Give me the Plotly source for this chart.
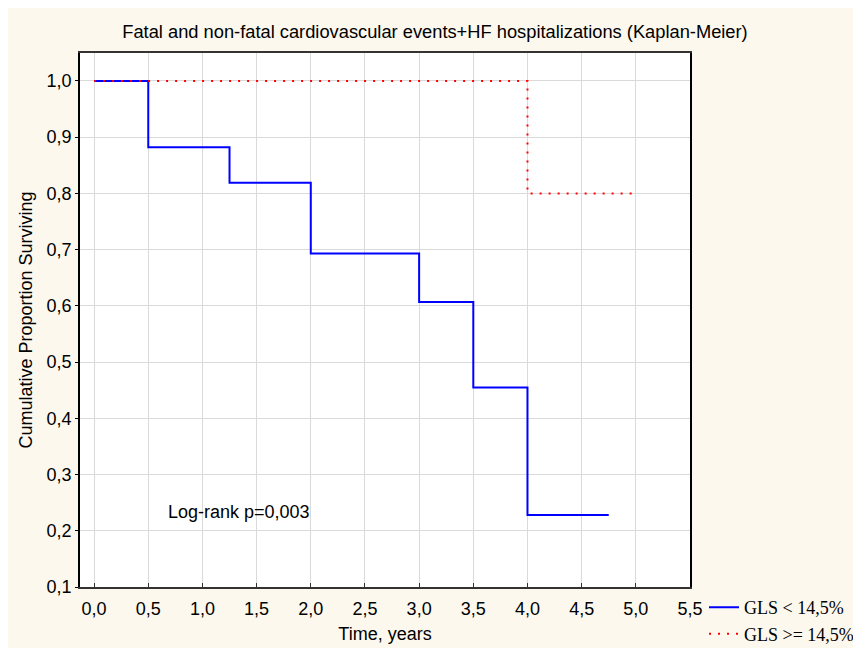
import plotly.graph_objects as go

# Data
blue_time = [0.0, 0.5, 1.25, 2.0, 3.0, 3.5, 4.0, 4.75]
blue_surv = [1.0, 0.882, 0.819, 0.693, 0.607, 0.455, 0.228, 0.228]
red_time = [0.0, 4.0, 5.0]
red_surv = [1.0, 0.8, 0.8]
x_ticks = [0.0, 0.5, 1.0, 1.5, 2.0, 2.5, 3.0, 3.5, 4.0, 4.5, 5.0, 5.5]
y_ticks = [0.1, 0.2, 0.3, 0.4, 0.5, 0.6, 0.7, 0.8, 0.9, 1.0]

SANS = "Liberation Sans, Arial, sans-serif"
SERIF = "Liberation Serif, Times New Roman, serif"

W, H = 845, 640

fig = go.Figure()
fig.add_trace(go.Scatter(x=blue_time, y=blue_surv, mode="lines", line_shape="hv",
                         line=dict(color="#0000FF", width=2), name="GLS < 14,5%"))
fig.add_trace(go.Scatter(x=red_time, y=red_surv, mode="lines", line_shape="hv",
                         line=dict(color="#FF0000", width=2, dash="2px,7px"), name="GLS >= 14,5%"))

fig.add_annotation(x=0.66, y=0.234, xref="x", yref="y", text="Log-rank p=0,003",
                   showarrow=False, xanchor="left", yanchor="middle",
                   font=dict(family=SANS, size=18, color="#000"))

fig.update_layout(
    width=W, height=H,
    margin=dict(l=72, r=163, t=45, b=61, autoexpand=False),
    paper_bgcolor="#FCF8EE", plot_bgcolor="white",
    separators=", ",
    font=dict(family=SANS, size=18, color="#000"),
    title=dict(text="Fatal and non-fatal cardiovascular events+HF hospitalizations (Kaplan-Meier)",
               xref="paper", x=0.5 + 50/610, xanchor="center", y=1 - 24/H, yanchor="middle",
               font=dict(family=SANS, size=18.3, color="#000")),
    showlegend=True,
    legend=dict(x=1.023, y=-0.004, xanchor="left", yanchor="top", bgcolor="rgba(0,0,0,0)",
                font=dict(family=SERIF, size=18, color="#000"),
                tracegroupgap=0, itemwidth=30),
)
fig.update_xaxes(range=[-0.13, 5.5], tickvals=x_ticks, tickformat=".1f",
                 showgrid=True, gridcolor="#DADADA", gridwidth=1, zeroline=False,
                 showline=True, linecolor="#333", linewidth=2, mirror=True,
                 ticks="inside", ticklen=4, tickcolor="#333", ticklabelstandoff=4,
                 title=dict(text="Time, years", standoff=10, font=dict(size=18)))
fig.update_yaxes(range=[0.1, 1.0497], tickvals=y_ticks, tickformat=".1f",
                 showgrid=True, gridcolor="#DADADA", gridwidth=1, zeroline=False,
                 showline=True, linecolor="#000", linewidth=1.5, mirror=True,
                 ticks="outside", ticklen=3, tickcolor="#000",
                 title=dict(text="Cumulative Proportion Surviving", standoff=9, font=dict(size=18)))

post = ("document.documentElement.style.overflow='hidden';"
        "document.body.style.margin='8px 0 0 8px';"
        "document.body.style.overflow='hidden';")
fig.write_html("out.html", post_script=post)
